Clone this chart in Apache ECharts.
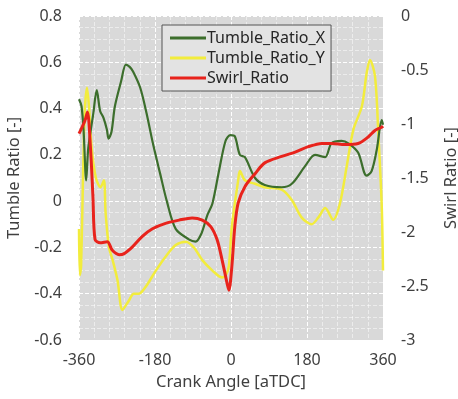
<!DOCTYPE html>
<html>
<head>
<meta charset="utf-8">
<script src="https://cdn.jsdelivr.net/npm/echarts@6/dist/echarts.min.js"></script>
<style>
  html, body { margin: 0; padding: 0; background: #fff; }
  #main { width: 458px; height: 399px; }
</style>
</head>
<body>
<div id="main"></div>
<script>
// crank angle / value pairs
var tumbleX = [
  [-360, 0.44], [-354, 0.41], [-349, 0.30], [-343, 0.09], [-338, 0.23], [-326, 0.38],
  [-318, 0.48], [-310, 0.39], [-302, 0.36], [-294, 0.31], [-290, 0.27], [-283, 0.30],
  [-275, 0.41], [-260, 0.52], [-249, 0.59], [-240, 0.58], [-232, 0.56], [-215, 0.49],
  [-200, 0.38], [-185, 0.25], [-168, 0.12], [-152, 0.0], [-131, -0.12], [-100, -0.165],
  [-84, -0.175], [-70, -0.14], [-56, -0.06], [-44, -0.01], [-28, 0.135], [-13, 0.26],
  [-2, 0.285], [9, 0.28], [21, 0.20], [33, 0.19], [57, 0.10], [80, 0.07], [120, 0.06],
  [144, 0.075], [175, 0.15], [199, 0.20], [223, 0.19], [238, 0.25], [262, 0.26],
  [278, 0.25], [301, 0.21], [321, 0.11], [333, 0.13], [345, 0.22], [357, 0.35], [360, 0.33]
];

var tumbleY = [
  [-360, -0.12], [-358, -0.32], [-355, -0.28], [-350, 0.15], [-346, 0.40], [-341, 0.49],
  [-336, 0.40], [-330, 0.23], [-320, 0.10], [-309, 0.06], [-301, 0.09], [-297, -0.05],
  [-289, -0.20], [-281, -0.25], [-269, -0.34], [-257, -0.47], [-242, -0.43], [-230, -0.40],
  [-218, -0.40], [-202, -0.37], [-178, -0.30], [-155, -0.24], [-131, -0.19], [-107, -0.175],
  [-88, -0.20], [-68, -0.255], [-44, -0.30], [-21, -0.33], [-12, -0.32], [-5, -0.28],
  [2, -0.11], [17, 0.09], [21, 0.13], [33, 0.09], [57, 0.075], [80, 0.06], [120, 0.05],
  [144, 0.005], [167, -0.07], [191, -0.10], [207, -0.07], [223, -0.03], [242, -0.08],
  [258, -0.01], [274, 0.15], [290, 0.31], [310, 0.41], [321, 0.55], [329, 0.61],
  [341, 0.54], [349, 0.29], [357, -0.02], [360, -0.30]
];

var swirl = [
  [-360, -1.09], [-354, -1.04], [-346, -0.97], [-340, -0.89], [-333, -1.21], [-327, -1.67],
  [-322, -2.07], [-310, -2.10], [-293, -2.09], [-281, -2.17], [-265, -2.21], [-253, -2.20],
  [-234, -2.14], [-210, -2.04], [-186, -1.97], [-155, -1.92], [-123, -1.89], [-92, -1.87],
  [-68, -1.89], [-48, -1.95], [-33, -2.07], [-21, -2.26], [-9, -2.48], [-5, -2.54],
  [2, -2.32], [9, -1.95], [17, -1.73], [33, -1.58], [57, -1.46], [80, -1.36], [120, -1.30],
  [152, -1.26], [183, -1.21], [215, -1.18], [238, -1.18], [270, -1.19], [301, -1.18],
  [325, -1.12], [341, -1.06], [357, -1.03], [360, -1.02]
];

var chart = echarts.init(document.getElementById('main'));

var labelFont = { color: '#404040', fontSize: 16, fontFamily: 'Noto Sans' };
var nameFont = { color: '#404040', fontSize: 16.5, fontFamily: 'Noto Sans' };
var gridLine = { show: true, lineStyle: { color: '#ffffff', type: 'dashed', width: 1 } };
var minorLine = { show: true, lineStyle: { color: 'rgba(255,255,255,0.5)', type: 'dashed', width: 1 } };

var option = {
  animation: false,
  grid: {
    left: 79, right: 75, top: 16, bottom: 59,
    outerBoundsMode: 'none',
    containLabel: false,
    show: true,
    backgroundColor: '#d9d9d9',
    borderWidth: 0
  },
  legend: {
    top: 25,
    left: 162,
    orient: 'vertical',
    itemWidth: 36,
    itemHeight: 3,
    itemGap: 4,
    padding: [5, 6, 5, 8],
    backgroundColor: '#e3e3e3',
    borderColor: '#555',
    borderWidth: 1,
    textStyle: { color: '#262626', fontSize: 16, fontFamily: 'Noto Sans', padding: [0, 0, 0, -4] },
    icon: 'rect',
    data: ['Tumble_Ratio_X', 'Tumble_Ratio_Y', 'Swirl_Ratio']
  },
  xAxis: {
    type: 'value',
    min: -360, max: 360, interval: 180,
    name: 'Crank Angle [aTDC]',
    nameLocation: 'middle',
    nameGap: 34,
    nameTextStyle: nameFont,
    axisLine: { show: false },
    axisTick: { show: false },
    axisLabel: Object.assign({ margin: 12 }, labelFont),
    splitLine: gridLine,
    minorTick: { show: false, splitNumber: 5 },
    minorSplitLine: minorLine
  },
  yAxis: [
    {
      type: 'value',
      min: -0.6, max: 0.8, interval: 0.2,
      name: 'Tumble Ratio [-]',
      nameLocation: 'middle',
      nameRotate: 90,
      nameGap: 56,
      nameTextStyle: nameFont,
      axisLine: { show: false },
      axisTick: { show: false },
      axisLabel: Object.assign({ margin: 17, formatter: function (v) { return String(Math.round(v * 10) / 10); } }, labelFont),
      splitLine: gridLine,
      minorTick: { show: false, splitNumber: 4 },
      minorSplitLine: minorLine
    },
    {
      type: 'value',
      min: -3, max: 0, interval: 0.5,
      name: 'Swirl Ratio [-]',
      nameLocation: 'middle',
      nameRotate: 90,
      nameGap: 60,
      nameTextStyle: nameFont,
      axisLine: { show: false },
      axisTick: { show: false },
      axisLabel: Object.assign({ margin: 18 }, labelFont),
      splitLine: { show: false }
    }
  ],
  series: [
    {
      name: 'Tumble_Ratio_X',
      type: 'line',
      yAxisIndex: 0,
      data: tumbleX,
      smooth: 0.3,
      showSymbol: false,
      color: '#3c6e2c',
      lineStyle: { width: 2.2, color: '#3c6e2c' },
      z: 3
    },
    {
      name: 'Tumble_Ratio_Y',
      type: 'line',
      yAxisIndex: 0,
      data: tumbleY,
      smooth: 0.3,
      showSymbol: false,
      color: '#f2ec3c',
      lineStyle: { width: 2.5, color: '#f2ec3c' },
      z: 2
    },
    {
      name: 'Swirl_Ratio',
      type: 'line',
      yAxisIndex: 1,
      data: swirl,
      smooth: 0.3,
      showSymbol: false,
      color: '#e8231c',
      lineStyle: { width: 3, color: '#e8231c' },
      z: 4
    }
  ]
};

chart.setOption(option);
</script>
</body>
</html>
